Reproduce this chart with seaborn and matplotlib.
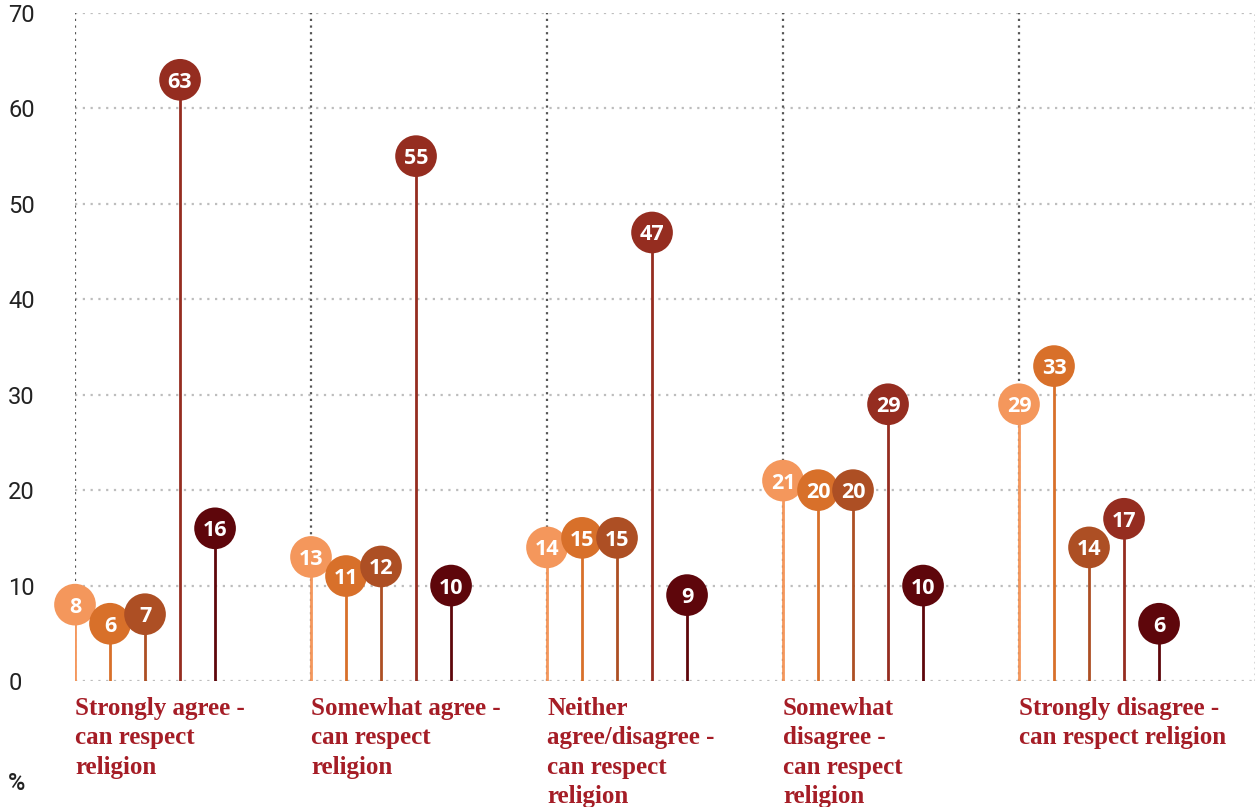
import numpy as np
import pandas as pd
import matplotlib
matplotlib.use("Agg")
import matplotlib.pyplot as plt
import matplotlib.transforms as mtransforms
import seaborn as sns

# data
categories = ["Strongly agree -\ncan respect\nreligion",
              "Somewhat agree -\ncan respect\nreligion",
              "Neither\nagree/disagree -\ncan respect\nreligion",
              "Somewhat\ndisagree -\ncan respect\nreligion",
              "Strongly disagree -\ncan respect religion"]
series = ["s1", "s2", "s3", "s4", "s5"]
values = [[8, 6, 7, 63, 16],
          [13, 11, 12, 55, 10],
          [14, 15, 15, 47, 9],
          [21, 20, 20, 29, 10],
          [29, 33, 14, 17, 6]]
colors = ["#f4975c", "#d8702a", "#ad4f24", "#952d20", "#5e060b"]
yticks = [0, 10, 20, 30, 40, 50, 60, 70]

group_gap = 6.74
rows = []
for gi, cat in enumerate(categories):
    for si, s in enumerate(series):
        rows.append({"cat": cat, "series": s, "x": gi * group_gap + si, "value": values[gi][si]})
df = pd.DataFrame(rows)

sns.set_style("white")
fig = plt.figure(figsize=(12.55, 8.07), dpi=100)
ax = fig.add_axes([75 / 1255, 126 / 807, 1180 / 1255, 668 / 807])

# light horizontal grid
for y in yticks:
    ax.axhline(y, color="#bdbdbd", linestyle=(0, (1, 2.5)), linewidth=1.6, zorder=0)
# dark dotted separators at group starts
for gi in range(len(categories)):
    ax.vlines(gi * group_gap, 0, 70, color="#555555", linestyle=(0, (1, 2)), linewidth=1.6, zorder=0)
ax.vlines(33.7, 0, 70, color="#d0d0d0", linestyle=(0, (1, 2.5)), linewidth=1.2, zorder=0)

# stems
for si, s in enumerate(series):
    d = df[df.series == s]
    ax.vlines(d.x, 0, d.value, color=colors[si], linewidth=2, zorder=2)

sns.scatterplot(data=df, x="x", y="value", hue="series", palette=colors, s=900,
                edgecolor="none", legend=False, ax=ax, zorder=3, clip_on=False)

for _, r in df.iterrows():
    ax.text(r.x, r.value, str(r.value), color="white", fontsize=15.5, fontweight="bold",
            family=["Open Sans", "DejaVu Sans"], ha="center", va="center_baseline", zorder=4)

ax.set_xlim(0, 33.7)
ax.set_ylim(0, 70)
ax.set_xticks([])
ax.set_yticks(yticks)
ax.set_yticklabels([str(t) for t in yticks], family=["Roboto", "DejaVu Sans"], fontsize=17,
                   color="#222222")
for lab in ax.get_yticklabels():
    lab.set_horizontalalignment("left")
ax.tick_params(axis="y", length=0, pad=48)
ax.set_xlabel("")
ax.set_ylabel("")
sns.despine(ax=ax, left=True, bottom=True)

trans = mtransforms.blended_transform_factory(ax.transData, ax.transAxes)
for gi, cat in enumerate(categories):
    ax.text(gi * group_gap, -16 / 668, cat, transform=trans, ha="left", va="top",
            color="#a51d26", fontsize=18, fontweight="bold",
            family=["Liberation Serif", "DejaVu Serif"], linespacing=1.35)

fig.text(8 / 1255, (807 - 783) / 807, "%", fontsize=17,
         family=["Roboto", "DejaVu Sans"], fontweight="medium",
         color="#222222", va="center", ha="left")

fig.savefig("out.png", dpi=100)
